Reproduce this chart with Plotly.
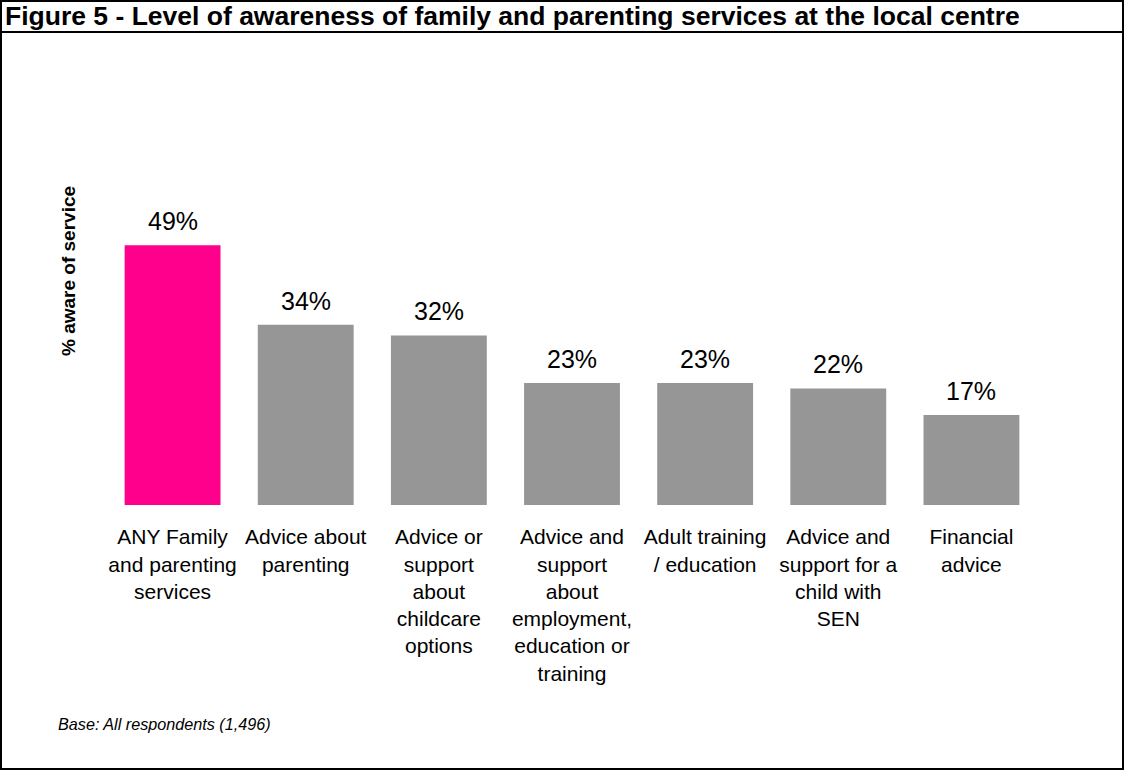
import plotly.graph_objects as go

# Awareness of each family / parenting service (% of respondents)
services = [
    "ANY Family<br>and parenting<br>services",
    "Advice about<br>parenting",
    "Advice or<br>support<br>about<br>childcare<br>options",
    "Advice and<br>support<br>about<br>employment,<br>education or<br>training",
    "Adult training<br>/ education",
    "Advice and<br>support for a<br>child with<br>SEN",
    "Financial<br>advice",
]
aware_pct = [49, 34, 32, 23, 23, 22, 17]
highlight = [True, False, False, False, False, False, False]

PINK = "#FF008C"
GREY = "#969696"
FONT = "Liberation Sans, Arial, sans-serif"

W, H = 1125, 771
L, R, T, B = 106, 87, 187, 266
PW, PH = W - L - R, H - T - B


def px_x(x):
    return (x - L) / PW


def px_y(y):
    return (H - B - y) / PH


idx = list(range(len(services)))
colors = [PINK if h else GREY for h in highlight]

fig = go.Figure(
    go.Bar(
        x=idx,
        y=aware_pct,
        marker=dict(color=colors, line=dict(width=0)),
        width=0.72,
        hoverinfo="skip",
    )
)

annotations = []
for i, v in zip(idx, aware_pct):
    annotations.append(
        dict(
            x=i, y=v, xref="x", yref="y",
            text=f"{v}%", showarrow=False,
            yanchor="bottom", yshift=8,
            font=dict(family=FONT, size=25, color="#000000"),
        )
    )

# Figure title, axis title and base note
annotations += [
    dict(
        x=px_x(3), y=px_y(16), xref="paper", yref="paper",
        text="<b>Figure 5 - Level of awareness of family and parenting services at the local centre</b>",
        showarrow=False, xanchor="left", yanchor="middle",
        font=dict(family=FONT, size=26.5, color="#000000"),
    ),
    dict(
        x=px_x(68), y=px_y(271), xref="paper", yref="paper",
        text="<b>% aware of service</b>", textangle=-90,
        showarrow=False, xanchor="center", yanchor="middle",
        font=dict(family=FONT, size=19, color="#000000"),
    ),
    dict(
        x=px_x(56), y=px_y(724), xref="paper", yref="paper",
        text="<i>Base: All respondents (1,496)</i>",
        showarrow=False, xanchor="left", yanchor="middle",
        font=dict(family=FONT, size=16.2, color="#000000"),
    ),
]

shapes = [
    # outer frame
    dict(type="rect", xref="paper", yref="paper",
         x0=px_x(1), x1=px_x(1123), y0=px_y(1), y1=px_y(769),
         line=dict(color="#000000", width=2), fillcolor="rgba(0,0,0,0)"),
    # rule under the title
    dict(type="line", xref="paper", yref="paper",
         x0=px_x(1), x1=px_x(1123), y0=px_y(32), y1=px_y(32),
         line=dict(color="#000000", width=2)),
]

fig.update_layout(
    width=W, height=H,
    margin=dict(l=L, r=R, t=T, b=B, pad=0),
    paper_bgcolor="#FFFFFF", plot_bgcolor="#FFFFFF",
    showlegend=False,
    annotations=annotations,
    shapes=shapes,
    xaxis=dict(
        range=[-0.5, len(services) - 0.5],
        tickmode="array", tickvals=idx, ticktext=services,
        showgrid=False, zeroline=False, showline=False,
        ticks="outside", ticklen=13, tickcolor="rgba(0,0,0,0)",
        tickfont=dict(family=FONT, size=21, color="#000000"),
        tickangle=0, fixedrange=True,
    ),
    yaxis=dict(
        range=[0, 60], visible=False, fixedrange=True,
    ),
)

fig.write_html("out.html", config={"displayModeBar": False})
